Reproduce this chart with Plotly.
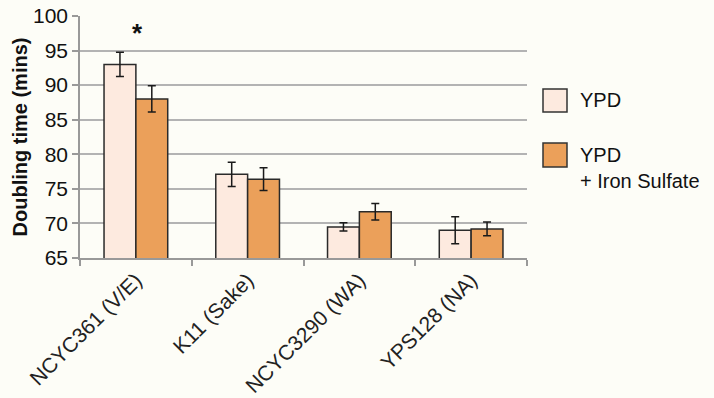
import plotly.graph_objects as go

categories = ["NCYC361 (V/E)", "K11 (Sake)", "NCYC3290 (WA)", "YPS128 (NA)"]
ypd = [93.0, 77.1, 69.5, 69.0]
ypd_err = [1.75, 1.75, 0.6, 1.95]
iron = [88.0, 76.4, 71.7, 69.2]
iron_err = [1.9, 1.65, 1.2, 1.0]
series_names = ["YPD", "YPD<br>+ Iron Sulfate"]
colors = ["#fdeadf", "#eba05a"]

FONT = "Liberation Sans, Arial, Helvetica"

fig = go.Figure()
for vals, errs, col, name in [(ypd, ypd_err, colors[0], series_names[0]),
                              (iron, iron_err, colors[1], series_names[1])]:
    fig.add_trace(go.Bar(
        x=categories, y=vals, name=name,
        marker=dict(color=col, line=dict(color="#2a2a2a", width=1.5)),
        error_y=dict(type="data", array=errs, color="#1a1a1a", thickness=1.5, width=4),
        showlegend=False,
    ))

fig.add_annotation(x=categories[0], y=97.6, xshift=2, text="<b>*</b>", showarrow=False,
                   font=dict(size=26, color="#111", family=FONT))

# manual legend (plot area spans x 80..527, y 16..258 px)
def px_x(x):
    return (x - 80) / 447

def px_y(y):
    return (258 - y) / 242

fig.add_shape(type="rect", xref="paper", yref="paper",
              x0=px_x(543), x1=px_x(567), y0=px_y(112), y1=px_y(89),
              fillcolor=colors[0], line=dict(color="#333", width=1.5))
fig.add_shape(type="rect", xref="paper", yref="paper",
              x0=px_x(543), x1=px_x(567), y0=px_y(167), y1=px_y(143),
              fillcolor=colors[1], line=dict(color="#333", width=1.5))
fig.add_annotation(xref="paper", yref="paper", x=px_x(578), y=px_y(100),
                   text=series_names[0], showarrow=False, xanchor="left", yanchor="middle",
                   font=dict(size=20, color="#111", family=FONT))
fig.add_annotation(xref="paper", yref="paper", x=px_x(578), y=px_y(168),
                   text=series_names[1], showarrow=False, xanchor="left", yanchor="middle",
                   align="left",
                   font=dict(size=20, color="#111", family=FONT))

fig.update_layout(
    width=714, height=398,
    margin=dict(l=80, r=187, t=16, b=140),
    paper_bgcolor="#fdfdf7", plot_bgcolor="#fdfdf7",
    barmode="group", bargap=0.43, bargroupgap=0,
    font=dict(family=FONT, color="#111"),
)
fig.update_yaxes(range=[65, 100], dtick=5, showgrid=True, gridcolor="#b3b3b3", gridwidth=1.5,
                 showline=True, linecolor="#999", linewidth=1.5,
                 ticks="outside", ticklen=6, tickcolor="#999", tickwidth=1.5,
                 tickfont=dict(size=21, color="#111"),
                 title=dict(text="<b>Doubling time (mins)</b>", font=dict(size=20, color="#111"), standoff=0),
                 zeroline=False, automargin=False)
fig.update_xaxes(showline=True, linecolor="#999", linewidth=1.5,
                 ticks="outside", ticklen=6, tickcolor="#999", tickwidth=1.5,
                 tickson="boundaries", tickangle=-45,
                 tickfont=dict(size=21, color="#222"), automargin=False)

fig.write_html("out.html", config={"displayModeBar": False},
               post_script="document.body.style.margin='0';")
